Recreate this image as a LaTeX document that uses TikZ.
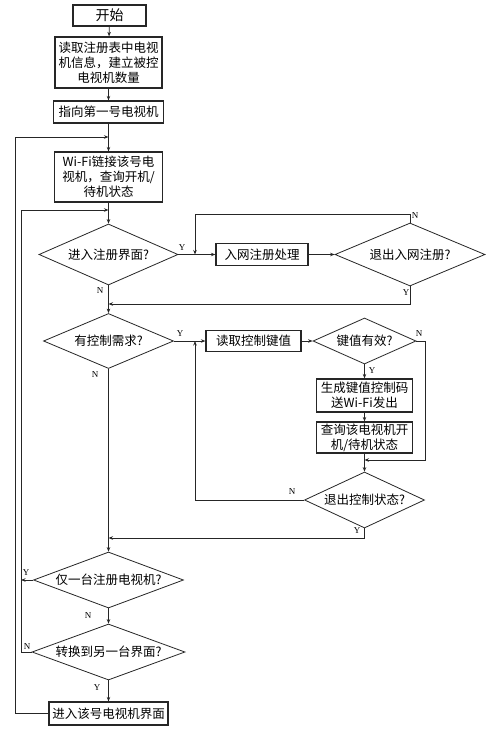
\documentclass[tikz,border=0pt]{standalone}
\usepackage{fontspec}
\newfontfamily\cjk{Noto Sans CJK SC}
\setmainfont{Liberation Serif}
\usetikzlibrary{shapes.geometric,arrows.meta,calc}
\newcommand\cjkfont{\cjk\fontsize{12.5}{15}\selectfont}
\begin{document}
\begin{tikzpicture}[x=1pt,y=-1pt,
  box/.style={draw=black!85,line width=1.2pt,rectangle,inner sep=0pt,align=center,font=\cjkfont},
  dia/.style={draw=black!85,line width=0.8pt,diamond,inner sep=0pt},
  every label/.style={font=\cjkfont,inner sep=0pt},
  ln/.style={draw=black!85,line width=0.8pt},
  arr/.style={ln,-{Stealth[length=4.5pt,width=3.5pt]}},
  yn/.style={font=\fontsize{9}{10}\selectfont,inner sep=1pt}]
\useasboundingbox[fill=white] (0,0) rectangle (500,744);
% main column
\node[box,minimum width=73pt,minimum height=21pt,font=\cjk\fontsize{14}{16}\selectfont] (start) at (109.5,15.5) {开始};
\node[box,minimum width=107pt,minimum height=51pt] (b2) at (108.5,62.5) {读取注册表中电视\\机信息，建立被控\\电视机数量};
\node[box,minimum width=110pt,minimum height=22pt] (b3) at (108.5,112) {指向第一号电视机};
\node[box,minimum width=108pt,minimum height=50pt] (wifi) at (108.5,177) {Wi-Fi链接该号电\\视机，查询开机/\\待机状态};
\node[dia,minimum width=139pt,minimum height=61pt,label={center:进入注册界面?}] (d1) at (108.5,254.5) {};
\node[box,minimum width=92pt,minimum height=22pt] (reg) at (262,254.5) {入网注册处理};
\node[dia,minimum width=150pt,minimum height=63pt,label={center:退出入网注册?}] (d2) at (410,254.5) {};
\node[dia,minimum width=130pt,minimum height=55pt,label={center:有控制需求?}] (d3) at (108.5,341) {};
\node[box,minimum width=95pt,minimum height=21pt] (rk) at (253.5,341) {读取控制键值};
\node[dia,minimum width=103pt,minimum height=46pt,label={center:键值有效?}] (d4) at (364.5,341) {};
\node[box,minimum width=96pt,minimum height=33pt] (gen) at (364.5,395.5) {生成键值控制码\\送Wi-Fi发出};
\node[box,minimum width=96pt,minimum height=31pt] (qry) at (364.5,437.5) {查询该电视机开\\机/待机状态};
\node[dia,minimum width=120pt,minimum height=56pt,label={center:退出控制状态?}] (d5) at (364.5,500) {};
\node[dia,minimum width=150pt,minimum height=56pt,label={center:仅一台注册电视机?}] (d6) at (108.5,580) {};
\node[dia,minimum width=153pt,minimum height=56pt,label={center:转换到另一台界面?}] (d7) at (108.5,652) {};
\node[box,minimum width=119pt,minimum height=23pt] (last) at (108.5,713.5) {进入该号电视机界面};
% junction coordinates
\coordinate (j1) at (108.5,137);
\coordinate (L1) at (15,137);
\coordinate (j7) at (108.5,210);
\coordinate (L2) at (21,210);
\coordinate (L2b) at (21,580);
\coordinate (j2) at (195,254.5);
\coordinate (j3) at (108.5,304);
\coordinate (j4) at (364.5,460);
\coordinate (j5) at (195,341);
\coordinate (j6) at (108.5,538);
% straight flow
\draw[arr] (start) -- (b2);
\draw[arr] (b2) -- (b3);
\draw[arr] (b3) -- (wifi);
\draw[arr] (wifi) -- (d1);
\draw[arr] (d1) -- (reg);
\draw[arr] (reg) -- (d2);
\draw[arr] (d1) -- (d3);
\draw[arr] (d3) -- (rk);
\draw[arr] (rk) -- (d4);
\draw[arr] (d4) -- (gen);
\draw[arr] (gen) -- (qry);
\draw[arr] (qry) -- (d5);
\draw[arr] (d3) -- (d6);
\draw[arr] (d6) -- (d7);
\draw[arr] (d7) -- (last);
% loops
\draw[arr] (d2.north) -- ++(0,-8) -| (j2);
\draw[arr] (d2.south) |- (j3);
\draw[arr] (d4.east) -- ++(9,0) |- (j4);
\draw[arr] (d5.west) -| (j5);
\draw[arr] (d5.south) |- (j6);
\draw[arr] (d6.west) -- (L2b);
\draw[arr] (d7.west) -| (L2) -- (j7);
\draw[arr] (last.west) -| (L1) -- (j1);
% labels
\node[yn] at (182,248) {Y};
\node[yn] at (100,291) {N};
\node[yn] at (415,216) {N};
\node[yn] at (406,293) {Y};
\node[yn] at (180,334) {Y};
\node[yn] at (95,375) {N};
\node[yn] at (419,334) {N};
\node[yn] at (372,371) {Y};
\node[yn] at (292,492) {N};
\node[yn] at (357,531) {Y};
\node[yn] at (26,573) {Y};
\node[yn] at (88,616) {N};
\node[yn] at (27,647) {N};
\node[yn] at (97,688) {Y};
\end{tikzpicture}
\end{document}
